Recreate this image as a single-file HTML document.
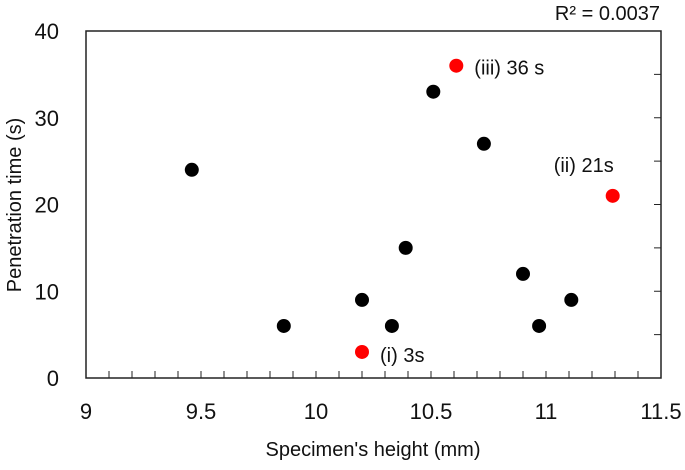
<!DOCTYPE html>
<html><head><meta charset="utf-8"><style>
body{margin:0;background:#fff;}
svg text{font-family:"Liberation Sans",sans-serif;fill:#111;}
</style></head><body>
<svg id="c" width="685" height="465"></svg>
<script>
const xTicks=[9,9.5,10,10.5,11,11.5];
const xTickLabels=["9","9.5","10","10.5","11","11.5"];
const yTicks=[0,10,20,30,40];
const yTickLabels=["0","10","20","30","40"];
const blackX=[9.46,9.86,10.2,10.33,10.39,10.51,10.73,10.9,10.97,11.11];
const blackY=[24,6,9,6,15,33,27,12,6,9];
const redX=[10.2,10.61,11.29];
const redY=[3,36,21];
const redLabels=["(i) 3s","(iii) 36 s","(ii) 21s"];
const L=86,R=661,T=31,B=378;
const sx=v=>L+(v-9)/2.5*(R-L);
const sy=v=>B-v/40*(B-T);
const svg=document.getElementById('c');
const NS="http://www.w3.org/2000/svg";
function mk(t,a,txt){const e=document.createElementNS(NS,t);for(const k in a)e.setAttribute(k,a[k]);if(txt!=null)e.textContent=txt;svg.appendChild(e);return e;}
let e=mk('rect',{x:L,y:T,width:R-L,height:B-T,fill:'none',stroke:'#222','stroke-width':1.5});


for(let i=1;i<25;i++){const x=sx(9+i*0.1);e=mk('line',{x1:x,x2:x,y1:B,y2:B-7,stroke:'#222','stroke-width':1});

}
for(let v=5;v<40;v+=5){e=mk('line',{x1:R,x2:R-7,y1:sy(v),y2:sy(v),stroke:'#222','stroke-width':1});

}
xTicks.forEach((v,i)=>{e=mk('text',{x:sx(v),y:419,'font-size':22,'text-anchor':'middle'},xTickLabels[i]);

});
yTicks.forEach((v,i)=>{e=mk('text',{x:59,y:sy(v)+8,'font-size':22,'text-anchor':'end'},yTickLabels[i]);

});
e=mk('text',{x:373,y:456,'font-size':20,'text-anchor':'middle'},"Specimen's height (mm)");


e=mk('text',{x:21,y:205,'font-size':20,'text-anchor':'middle',transform:'rotate(-90 21 205)'},"Penetration time (s)");


e=mk('text',{x:660,y:20,'font-size':20,'text-anchor':'end'},"R² = 0.0037");


blackX.forEach((v,i)=>{e=mk('circle',{cx:sx(v),cy:sy(blackY[i]),r:7,fill:'#000'});

});
const offs=[[18,10],[18,9],[-59,-24]];
redX.forEach((v,i)=>{const cx=sx(v),cy=sy(redY[i]);e=mk('circle',{cx:cx,cy:cy,r:7,fill:'#f00'});


e=mk('text',{x:cx+offs[i][0],y:cy+offs[i][1],'font-size':20},redLabels[i]);

});
</script>
</body></html>
